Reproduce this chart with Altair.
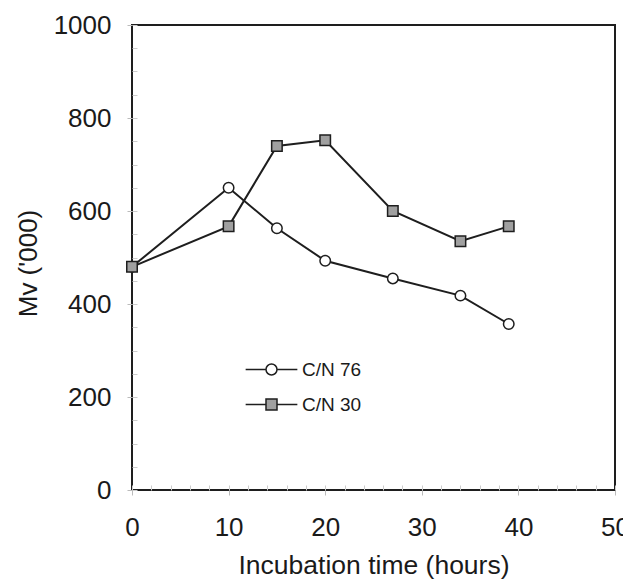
import altair as alt
import pandas as pd

hours = [0, 10, 15, 20, 27, 34, 39]
cn76 = [480, 650, 563, 493, 455, 418, 357]
cn30 = [480, 567, 740, 752, 600, 535, 567]
series_names = ["C/N 76", "C/N 30"]
y_ticks = [0, 200, 400, 600, 800, 1000]
x_ticks = [0, 10, 20, 30, 40, 50]
y_minor = list(range(0, 1001, 50))
x_minor = list(range(0, 51, 2))

rows = []
for name, vals in zip(series_names, [cn76, cn30]):
    for h, v in zip(hours, vals):
        rows.append({"hours": h, "mv": v, "series": name})
df = pd.DataFrame(rows)

FONT = "Liberation Sans"
TXT = "#1a1a1a"
STROKE = "#1e1e1e"

xscale = alt.Scale(domain=[0, 50], nice=False, zero=False)
yscale = alt.Scale(domain=[0, 1000], nice=False)

circle_leg = "M-4.7,0H-1M1,0H4.7M-1,0A1,1,0,1,1,1,0A1,1,0,1,1,-1,0Z"
square_leg = "M-4.7,0H-1M1,0H4.7M-1,-1H1V1H-1Z"
fills = ["#ffffff", "#a0a0a0"]

base = alt.Chart(df)

lines = base.mark_line(color=STROKE, strokeWidth=2).encode(
    x=alt.X("hours:Q", scale=xscale,
            axis=alt.Axis(values=x_ticks, title="Incubation time (hours)", orient="bottom",
                          labelFontSize=26, titleFontSize=26.5, labelFont=FONT, titleFont=FONT,
                          labelColor=TXT, titleColor=TXT, titleFontWeight="normal",
                          domain=False, grid=False, tickColor="#bbbbbb", tickSize=5,
                          labelPadding=19, titlePadding=12, labelFlush=False, format="d")),
    y=alt.Y("mv:Q", scale=yscale,
            axis=alt.Axis(values=y_ticks, title="Mv ('000)", orient="left",
                          labelFontSize=26, titleFontSize=26, labelFont=FONT, titleFont=FONT,
                          labelColor=TXT, titleColor=TXT, titleFontWeight="normal",
                          domain=False, grid=False, tickColor="#bbbbbb", tickSize=5,
                          labelPadding=16, titlePadding=12, titleY=238,
                          labelFlush=False, format="d")),
    detail="series:N",
)

points = base.mark_point(filled=True, stroke=STROKE, strokeWidth=1.5, size=110, opacity=1).encode(
    x=alt.X("hours:Q", scale=xscale,
            axis=alt.Axis(values=x_minor, orient="bottom", labels=False, title=None, domain=False,
                          grid=False, tickColor="#cccccc", tickSize=5, offset=-5)),
    y=alt.Y("mv:Q", scale=yscale,
            axis=alt.Axis(values=y_minor, orient="left", labels=False, title=None, domain=False,
                          grid=False, tickColor="#cccccc", tickSize=5, offset=-5)),
    shape=alt.Shape("series:N", scale=alt.Scale(domain=series_names, range=["circle", "square"]),
                    legend=None),
    fill=alt.Fill("series:N", scale=alt.Scale(domain=series_names, range=fills), legend=None),
)

leg_kw = dict(title=None, orient="none", legendX=130, legendY=335,
              labelFont=FONT, labelFontSize=19, labelColor=TXT,
              labelOffset=21, rowPadding=15, symbolStrokeWidth=1.5,
              symbolStrokeColor=STROKE, symbolSize=121)

legend_layer = base.transform_filter("false").mark_point(
    filled=False, strokeWidth=1.5, size=121, opacity=1).encode(
    x=alt.X("hours:Q", scale=xscale, axis=None),
    y=alt.Y("mv:Q", scale=yscale, axis=None),
    shape=alt.Shape("series:N", scale=alt.Scale(domain=series_names, range=[circle_leg, square_leg]),
                    legend=alt.Legend(**leg_kw)),
    fill=alt.Fill("series:N", scale=alt.Scale(domain=series_names, range=fills),
                  legend=alt.Legend(**leg_kw)),
    stroke=alt.Stroke("series:N", scale=alt.Scale(domain=series_names, range=[STROKE, STROKE]),
                      legend=alt.Legend(**leg_kw)),
)

chart = alt.layer(lines, points, legend_layer).resolve_axis(
    x="independent", y="independent"
).resolve_scale(shape="independent", fill="independent", stroke="independent").properties(
    width=483, height=465,
    autosize=alt.AutoSizeParams(type="none"),
    padding={"left": 124, "top": 17, "right": 8, "bottom": 89},
    background="white",
).configure_view(stroke=STROKE, strokeWidth=2)

chart.save("out.html", embed_options={"renderer": "svg", "actions": False})
